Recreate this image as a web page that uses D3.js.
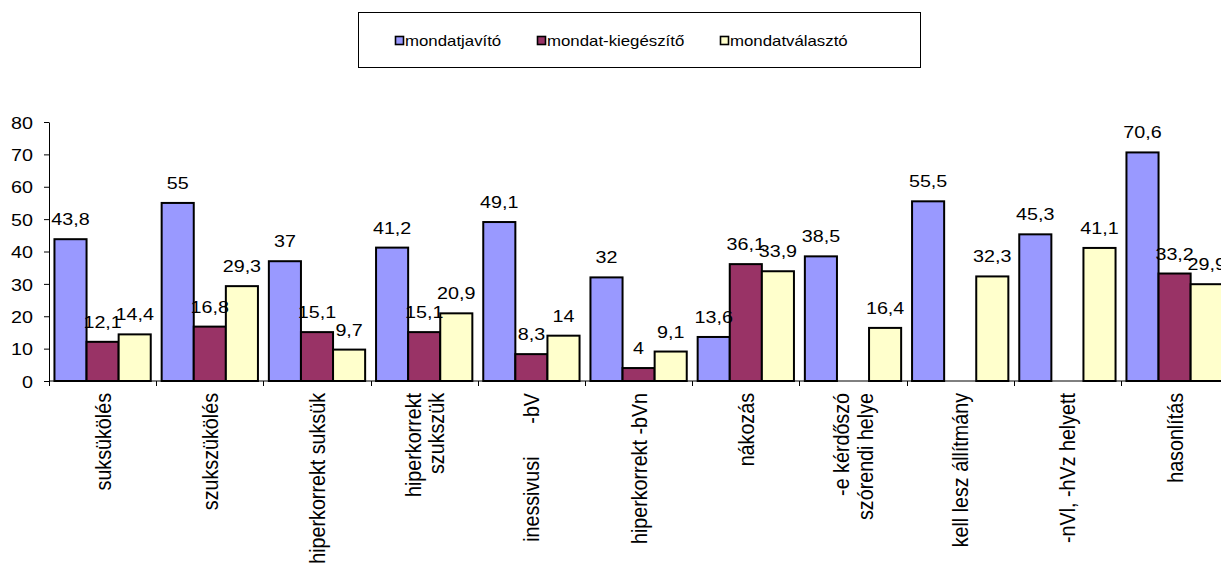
<!DOCTYPE html>
<html>
<head>
<meta charset="utf-8">
<script src="https://cdn.jsdelivr.net/npm/d3@7"></script>
<style>
  html, body { margin: 0; padding: 0; background: #fff; overflow: hidden; }
  svg { display: block; font-family: Arial, "Liberation Sans", sans-serif; }
</style>
</head>
<body>
<svg id="chart" width="1221" height="563"></svg>
<script>
// Categories (x axis); "\n" separates the two lines of a wrapped label
const categories = [
  "suksükölés",
  "szukszükölés",
  "hiperkorrekt suksük",
  "hiperkorrekt\nszukszük",
  "inessivusi      -bV",
  "hiperkorrekt -bVn",
  "nákozás",
  "-e kérdőszó\nszórendi helye",
  "kell lesz állítmány",
  "-nVl, -hVz helyett",
  "hasonlítás"
];

const seriesNames = ["mondatjavító", "mondat-kiegészítő", "mondatválasztó"];

// null = no bar / no label
const mondatjavito      = [43.8, 55, 37, 41.2, 49.1, 32, 13.6, 38.5, 55.5, 45.3, 70.6];
const mondatKiegeszito  = [12.1, 16.8, 15.1, 15.1, 8.3, 4, 36.1, null, null, null, 33.2];
const mondatvalaszto    = [14.4, 29.3, 9.7, 20.9, 14, 9.1, 33.9, 16.4, 32.3, 41.1, 29.9];

const yTicks = [0, 10, 20, 30, 40, 50, 60, 70, 80];

const seriesValues = [mondatjavito, mondatKiegeszito, mondatvalaszto];
const colors = ["#9999FF", "#993366", "#FFFFCC"];

const svg = d3.select("#chart");
const SX = 1.16; // horizontal text stretch

const plot = { left: 49, top: 122, bottom: 381, step: 107.2 };

const x = d3.scaleBand()
  .domain(categories)
  .range([plot.left, plot.left + plot.step * categories.length])
  .paddingInner(0).paddingOuter(0);

const xs = d3.scaleBand()
  .domain(d3.range(seriesNames.length))
  .range([0, x.bandwidth()])
  .paddingInner(0).paddingOuter(0.17);

const y = d3.scaleLinear().domain([0, 80]).range([plot.bottom, plot.top]);

const fmt = v => String(v).replace(".", ",");

// Bars
const rows = [];
categories.forEach((c, i) => {
  seriesValues.forEach((vals, s) => {
    if (vals[i] != null) rows.push({ c, s, v: vals[i] });
  });
});

svg.append("g").selectAll("rect")
  .data(rows).join("rect")
  .attr("x", d => x(d.c) + xs(d.s))
  .attr("y", d => y(d.v))
  .attr("width", xs.bandwidth())
  .attr("height", d => y(0) - y(d.v))
  .attr("fill", d => colors[d.s])
  .attr("stroke", "#000")
  .attr("stroke-width", 2);

// Value labels
svg.append("g").selectAll("text")
  .data(rows).join("text")
  .attr("transform", d => `translate(${x(d.c) + xs(d.s) + xs.bandwidth() / 2},${y(d.v) - 14}) scale(${SX},1)`)
  .attr("text-anchor", "middle")
  .attr("font-size", 17)
  .attr("fill", "#000")
  .text(d => fmt(d.v));

// Y axis
const yAxis = svg.append("g")
  .attr("transform", `translate(${plot.left},0)`)
  .call(d3.axisLeft(y).tickValues(yTicks).tickSize(5).tickSizeOuter(0));
yAxis.select(".domain").attr("stroke", "#000");
yAxis.selectAll(".tick line").attr("stroke", "#000");
yAxis.selectAll(".tick text")
  .attr("x", null)
  .attr("dy", "0.36em")
  .attr("transform", `translate(-16,0) scale(${SX},1)`)
  .attr("font-size", 17)
  .attr("font-family", "Arial, 'Liberation Sans', sans-serif")
  .attr("fill", "#000");

// X axis line and tick marks at category boundaries
const xg = svg.append("g");
const xr = x.range();
xg.append("line")
  .attr("x1", xr[0]).attr("x2", xr[1])
  .attr("y1", y(0)).attr("y2", y(0))
  .attr("stroke", "#000").attr("stroke-width", 1);
const bounds = categories.map(c => x(c)).concat([xr[1]]);
xg.selectAll("line.tick")
  .data(bounds).join("line")
  .attr("class", "tick")
  .attr("x1", d => Math.round(d) + 0.5).attr("x2", d => Math.round(d) + 0.5)
  .attr("y1", y(0)).attr("y2", y(0) + 5)
  .attr("stroke", "#000");

// Category labels, rotated
const catG = xg.selectAll("g.cat")
  .data(categories).join("g")
  .attr("class", "cat")
  .attr("transform", d => `translate(${x(d) + x.bandwidth() / 2},393) scale(${SX},1) rotate(-90)`);
catG.each(function (d) {
  const lines = d.split("\n");
  const t = d3.select(this).append("text")
    .attr("text-anchor", "end")
    .attr("font-size", 19.7)
    .attr("fill", "#000")
    .style("white-space", "pre");
  lines.forEach((ln, i) => {
    t.append("tspan")
      .attr("x", 0)
      .attr("y", 0)
      .attr("dy", (0.35 + (i - (lines.length - 1) / 2) * 1.02) + "em")
      .text(ln);
  });
});

// Legend
const lg = svg.append("g");
lg.append("rect")
  .attr("x", 358.5).attr("y", 12.5)
  .attr("width", 562).attr("height", 55)
  .attr("fill", "#fff").attr("stroke", "#000").attr("stroke-width", 1);
const legendX = [395, 537, 720];
const items = lg.selectAll("g.item")
  .data(seriesNames).join("g")
  .attr("class", "item")
  .attr("transform", (d, i) => `translate(${legendX[i]},0)`);
items.append("rect")
  .attr("x", 0.5).attr("y", 36.5)
  .attr("width", 8).attr("height", 8)
  .attr("fill", (d, i) => colors[i])
  .attr("stroke", "#000").attr("stroke-width", 1.6);
items.append("text")
  .attr("transform", `translate(10,45.5) scale(${SX},1)`)
  .attr("font-size", 14.5)
  .attr("fill", "#000")
  .text(d => d);
</script>
</body>
</html>
